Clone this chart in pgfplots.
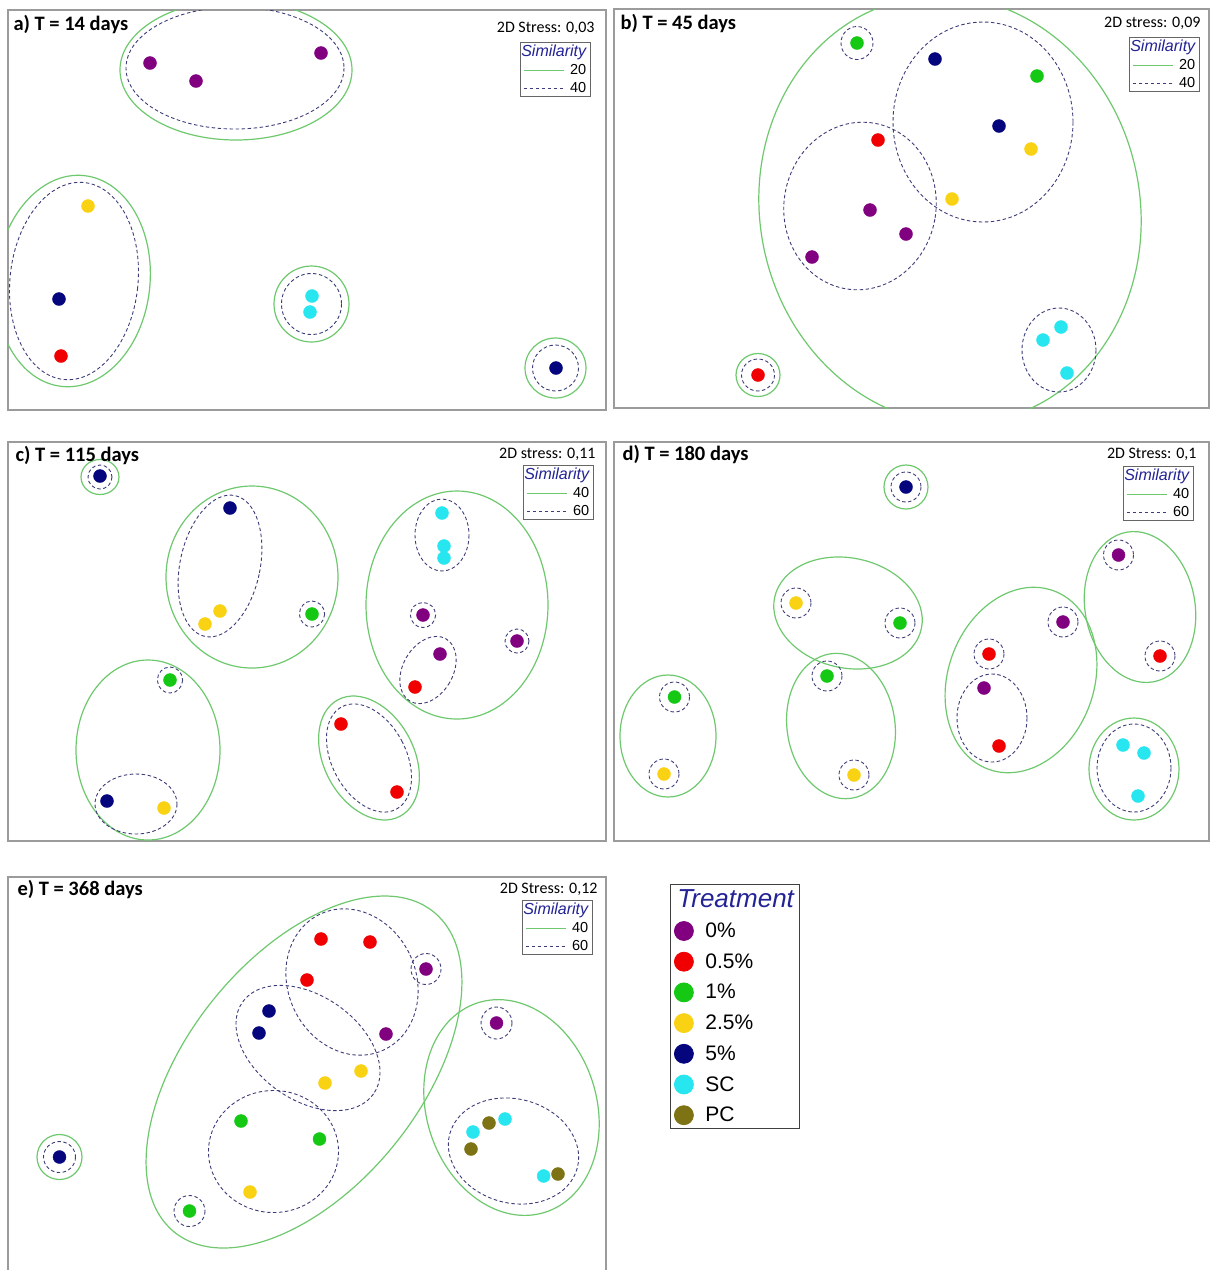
\documentclass[border=0pt]{standalone}
\usepackage{pgfplots}
\pgfplotsset{compat=1.18}
\usepackage{fontspec}
\setmainfont{Carlito}
\newfontfamily\arialf{Liberation Sans}

% treatment colours
\definecolor{c0}{RGB}{128,0,128}
\definecolor{c05}{RGB}{240,0,0}
\definecolor{c1}{RGB}{20,200,20}
\definecolor{c25}{RGB}{250,210,20}
\definecolor{c5}{RGB}{5,5,125}
\definecolor{cSC}{RGB}{40,230,240}
\definecolor{cPC}{RGB}{125,115,20}
% similarity contours and frame
\definecolor{simgreen}{RGB}{110,200,110}
\definecolor{simdash}{RGB}{60,60,120}
\definecolor{framegray}{RGB}{155,155,155}
\definecolor{ttlblue}{RGB}{35,35,150}

\tikzset{
  simA/.style={simgreen, line width=1.2pt},
  simB/.style={simdash, line width=0.9pt, dash pattern=on 3.5pt off 2.5pt},
  ptitle/.style={anchor=west, font=\fontsize{20.5}{24}\selectfont\bfseries},
  pstress/.style={anchor=east, font=\fontsize{16}{19}\selectfont},
}
% contour ellipses: centre x, centre y, x radius, y radius, rotation
\newcommand{\simAell}[5]{\draw[simA, rotate around={#5:(axis cs:#1,#2)}] (axis cs:#1,#2) ellipse [x radius=#3, y radius=#4];}
\newcommand{\simBell}[5]{\draw[simB, rotate around={#5:(axis cs:#1,#2)}] (axis cs:#1,#2) ellipse [x radius=#3, y radius=#4];}

\pgfplotsset{
  panel/.style={
    x=1pt, y=1pt, y dir=reverse,
    axis lines=box, axis line style={draw=framegray, line width=1.5pt},
    xtick=\empty, ytick=\empty,
    clip bounding box=upper bound,
    anchor=north west,
    legend cell align=right,
    legend image code/.code={\draw[##1] (0pt,0pt) -- (40pt,0pt);},
    legend style={at={(1,1)}, anchor=north east, draw=black!60, line width=0.6pt,
      fill=white, font=\arialf\fontsize{14.5}{17}\selectfont,
      inner xsep=3pt, inner ysep=1pt, row sep=3.5pt, column sep=4pt,
      nodes={inner sep=1.5pt}},
  },
  pt/.style={only marks, mark=*, mark size=6.5pt, forget plot, color=#1,
    mark options={fill=#1, draw=#1}},
}
\newcommand{\simtitle}{\addlegendimage{empty legend}\addlegendentry{\llap{\textcolor{ttlblue}{\itshape\fontsize{16}{18}\selectfont Similarity}}}}

\begin{document}
\begin{tikzpicture}

% ---------------- a) T = 14 days
\begin{axis}[panel, xmin=8, xmax=606, ymin=10, ymax=410, at={(8pt,-10pt)},
  legend style={xshift=-15pt, yshift=-32pt}]
\simtitle
\addlegendimage{simA}\addlegendentry{20}
\addlegendimage{simB}\addlegendentry{40}
\simAell{236}{70}{116}{70}{0}
\simBell{235}{68}{109}{61}{0}
\simAell{73}{281}{77}{106}{-6}
\simBell{74}{281}{64}{99}{-6}
\simAell{311.5}{304}{37.5}{38}{0}
\simBell{311.5}{304}{30}{30.5}{0}
\simAell{555.5}{368}{30.5}{30}{0}
\simBell{555.5}{368}{23}{23}{0}
\addplot[pt=c0] coordinates {(150,63) (196,81) (321,53)};
\addplot[pt=c05] coordinates {(61,356)};
\addplot[pt=c25] coordinates {(88,206)};
\addplot[pt=c5] coordinates {(59,299) (556,368)};
\addplot[pt=cSC] coordinates {(312,296) (310,312)};
\node[ptitle] at (axis cs:10,24) {a) T = 14 days};
\node[pstress] at (axis cs:598,28) {2D Stress: 0,03};
\end{axis}

% ---------------- b) T = 45 days
\begin{axis}[panel, xmin=614, xmax=1209, ymin=9, ymax=408, at={(614pt,-9pt)},
  legend style={xshift=-9pt, yshift=-28pt}]
\simtitle
\addlegendimage{simA}\addlegendentry{20}
\addlegendimage{simB}\addlegendentry{40}
\simAell{950}{210}{190}{215}{12}
\simBell{983}{122}{90}{100}{0}
\simBell{860}{206}{76}{84}{-10}
\simBell{1059}{350}{37}{42}{0}
\simBell{857}{43}{16}{16.5}{0}
\simAell{758}{375}{22}{21.5}{0}
\simBell{758}{375}{16.5}{16}{0}
\addplot[pt=c0] coordinates {(870,210) (906,234) (812,257)};
\addplot[pt=c05] coordinates {(878,140) (758,375)};
\addplot[pt=c1] coordinates {(857,43) (1037,76)};
\addplot[pt=c25] coordinates {(1031,149) (952,199)};
\addplot[pt=c5] coordinates {(935,59) (999,126)};
\addplot[pt=cSC] coordinates {(1061,327) (1043,340) (1067,373)};
\node[ptitle] at (axis cs:617,23) {b) T = 45 days};
\node[pstress] at (axis cs:1204,23) {2D stress: 0,09};
\end{axis}

% ---------------- c) T = 115 days
\begin{axis}[panel, xmin=8, xmax=606, ymin=442, ymax=841, at={(8pt,-442pt)},
  legend style={xshift=-12pt, yshift=-23pt}]
\simtitle
\addlegendimage{simA}\addlegendentry{40}
\addlegendimage{simB}\addlegendentry{60}
\simAell{100}{477}{19}{17.5}{0}
\simBell{100}{477}{12}{12}{0}
\simAell{252}{577}{86}{91}{0}
\simBell{220}{566}{40}{72}{-12}
\simBell{312}{614}{12.6}{13}{0}
\simAell{457}{605}{91}{114}{0}
\simBell{442}{535}{27}{36}{0}
\simBell{423}{615}{12.6}{12.5}{0}
\simBell{517}{641}{12}{12}{0}
\simBell{428}{670}{25}{36}{-30}
\simAell{148}{750}{72}{90}{0}
\simBell{170}{680}{12.6}{13}{0}
\simBell{136}{804}{41}{30}{0}
\simAell{369}{758}{45}{66}{28}
\simBell{369}{758}{37}{58}{28}
\addplot[pt=c0] coordinates {(423,615) (517,641) (440,654)};
\addplot[pt=c05] coordinates {(415,687) (341,724) (397,792)};
\addplot[pt=c1] coordinates {(312,614) (170,680)};
\addplot[pt=c25] coordinates {(220,611) (205,624) (164,808)};
\addplot[pt=c5] coordinates {(100,476) (230,508) (107,801)};
\addplot[pt=cSC] coordinates {(442,513) (444,546) (444,558)};
\node[ptitle] at (axis cs:12,455) {c) T = 115 days};
\node[pstress] at (axis cs:599,454) {2D stress: 0,11};
\end{axis}

% ---------------- d) T = 180 days
\begin{axis}[panel, xmin=614, xmax=1209, ymin=442, ymax=841, at={(614pt,-442pt)},
  legend style={xshift=-15pt, yshift=-24pt}]
\simtitle
\addlegendimage{simA}\addlegendentry{40}
\addlegendimage{simB}\addlegendentry{60}
\simAell{906}{487}{22}{22}{0}
\simBell{906}{487}{15}{15}{0}
\simAell{848}{613}{75}{55}{-12}
\simAell{841}{726}{54}{73}{8}
\simAell{668}{736}{48}{61}{0}
\simAell{1021}{680}{73}{95}{-20}
\simBell{992}{718}{35}{44}{0}
\simAell{1140}{607}{55}{76}{10}
\simAell{1134}{769}{45}{51}{0}
\simBell{1134}{768}{37}{44}{0}
\simBell{1118.5}{555}{15}{15}{0}
\simBell{796}{603}{15}{15}{0}
\simBell{900}{623}{15}{15}{0}
\simBell{1063}{622}{15}{15}{0}
\simBell{989}{654}{15}{15}{0}
\simBell{1160}{656}{15}{15}{0}
\simBell{827}{676}{15}{15}{0}
\simBell{674.5}{697}{15}{15}{0}
\simBell{664}{774}{15}{15}{0}
\simBell{854}{775}{15}{15}{0}
\addplot[pt=c0] coordinates {(1118.5,555) (1063,622) (984,688)};
\addplot[pt=c05] coordinates {(989,654) (1160,656) (999,746)};
\addplot[pt=c1] coordinates {(900,623) (827,676) (674.5,697)};
\addplot[pt=c25] coordinates {(796,603) (664,774) (854,775)};
\addplot[pt=c5] coordinates {(906,487)};
\addplot[pt=cSC] coordinates {(1123,745) (1144,753) (1138,796)};
\node[ptitle] at (axis cs:619,454) {d) T = 180 days};
\node[pstress] at (axis cs:1200,454) {2D Stress: 0,1};
\end{axis}

% ---------------- e) T = 368 days
\begin{axis}[panel, xmin=8, xmax=606, ymin=877, ymax=1275, at={(8pt,-877pt)},
  legend style={xshift=-13pt, yshift=-23pt}]
\simtitle
\addlegendimage{simA}\addlegendentry{40}
\addlegendimage{simB}\addlegendentry{60}
\simAell{59.5}{1157}{22.5}{22.5}{0}
\simBell{59.5}{1157}{16}{15.5}{0}
\simAell{304}{1072}{206}{116}{51}
\simBell{352}{982}{64}{75}{25}
\simBell{308}{1048}{80}{52}{-35}
\simBell{273.5}{1151.5}{65}{61}{0}
\simAell{511.5}{1107.5}{85}{110}{18}
\simBell{513.5}{1151}{66}{52}{-15}
\simBell{426}{969}{15}{15.5}{0}
\simBell{496.5}{1023}{15.5}{16}{0}
\simBell{189.5}{1211}{15.5}{15.5}{0}
\addplot[pt=c0] coordinates {(426,969) (386,1034) (496.5,1023)};
\addplot[pt=c05] coordinates {(321,939) (370,942) (307,980)};
\addplot[pt=c1] coordinates {(241,1121) (319.5,1139) (189.5,1211)};
\addplot[pt=c25] coordinates {(361,1071) (325,1083) (250,1192)};
\addplot[pt=c5] coordinates {(269,1011) (259,1033) (59.5,1157)};
\addplot[pt=cSC] coordinates {(505,1119) (473,1132) (543.6,1176)};
\addplot[pt=cPC] coordinates {(489,1123) (471,1149) (558,1174)};
\node[ptitle] at (axis cs:14,889) {e) T = 368 days};
\node[pstress] at (axis cs:601,889) {2D Stress: 0,12};
\end{axis}

% ---------------- treatment key
\begin{axis}[hide axis, scale only axis, width=130pt, height=248pt,
  xmin=0, xmax=1, ymin=0, ymax=1, at={(670pt,-884pt)}, anchor=north west,
  legend cell align=left,
  legend image code/.code={\draw[#1] plot coordinates {(9.5pt,0pt)};},
  legend style={at={(0,1)}, anchor=north west, draw=black!75, line width=0.8pt,
    font=\arialf\fontsize{21}{24}\selectfont, inner xsep=4pt, inner ysep=4pt,
    row sep=11.7pt, column sep=11pt, nodes={inner sep=1pt}}]
\addlegendimage{empty legend}\addlegendentry{\hspace*{-28pt}\textcolor{ttlblue}{\itshape\fontsize{26}{29}\selectfont Treatment}}
\addlegendimage{only marks, mark=*, mark size=9.5pt, c0}\addlegendentry{0\%}
\addlegendimage{only marks, mark=*, mark size=9.5pt, c05}\addlegendentry{0.5\%}
\addlegendimage{only marks, mark=*, mark size=9.5pt, c1}\addlegendentry{1\%}
\addlegendimage{only marks, mark=*, mark size=9.5pt, c25}\addlegendentry{2.5\%}
\addlegendimage{only marks, mark=*, mark size=9.5pt, c5}\addlegendentry{5\%}
\addlegendimage{only marks, mark=*, mark size=9.5pt, cSC}\addlegendentry{SC}
\addlegendimage{only marks, mark=*, mark size=9.5pt, cPC}\addlegendentry{PC}
\end{axis}

\pgfresetboundingbox
\useasboundingbox (0,0) rectangle (1210pt,-1270pt);
\end{tikzpicture}
\end{document}
